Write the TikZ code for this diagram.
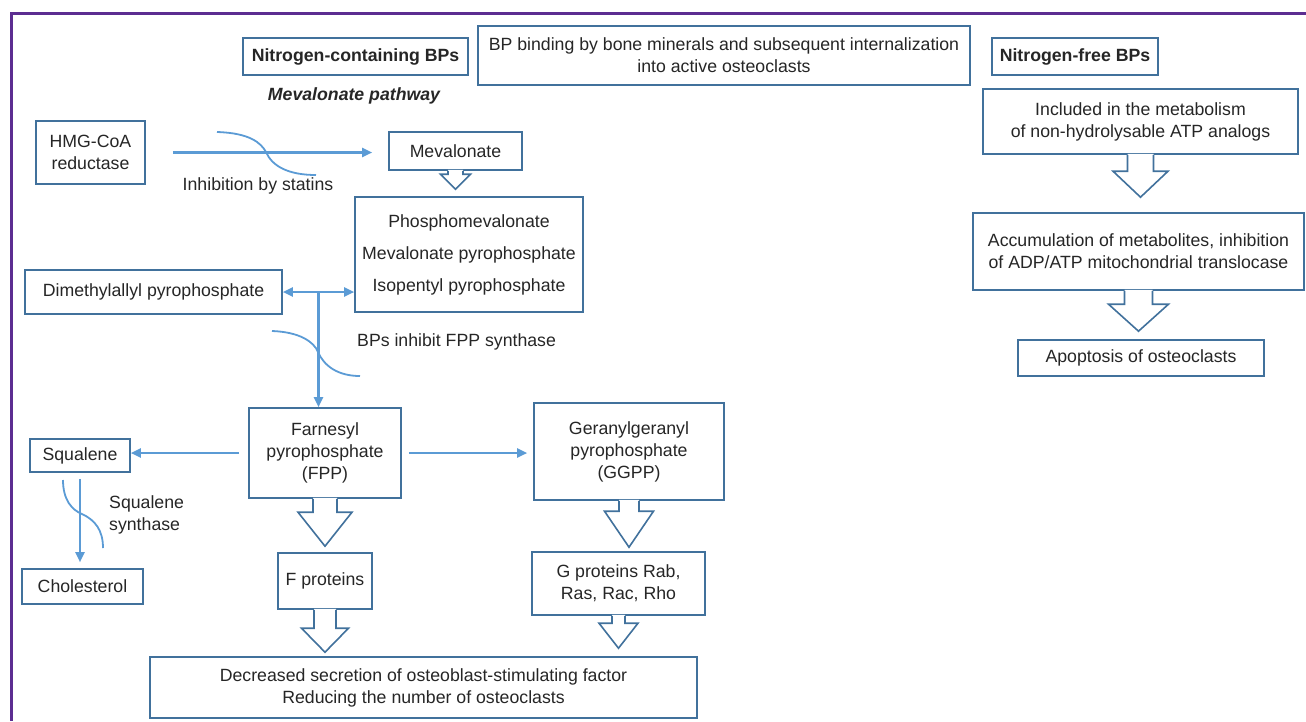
\documentclass[tikz,border=0pt]{standalone}
\usepackage{fontspec}
\setmainfont{Liberation Sans}
\usepackage{tikz}
\usetikzlibrary{positioning,arrows.meta,calc}
\definecolor{bxc}{HTML}{41719C}
\definecolor{arrc}{HTML}{5B9BD5}
\definecolor{frm}{HTML}{5C2D91}
\definecolor{txt}{HTML}{262626}

% hollow block arrow: source, target, shaft half, head half, head length, gap
\newcommand{\bigarrow}[6]{%
  \fill[white] let \p1=(#1.south), \p2=(#2.north) in
    ({\x1-#3pt},{\y1+1pt}) -- ({\x1-#3pt},{\y2+#6pt+#5pt}) -- ({\x1-#4pt},{\y2+#6pt+#5pt})
    -- ({\x1},{\y2+#6pt}) -- ({\x1+#4pt},{\y2+#6pt+#5pt}) -- ({\x1+#3pt},{\y2+#6pt+#5pt})
    -- ({\x1+#3pt},{\y1+1pt}) -- cycle;
  \draw[bxline] let \p1=(#1.south), \p2=(#2.north) in
    ({\x1-#3pt},{\y1}) -- ({\x1-#3pt},{\y2+#6pt+#5pt}) -- ({\x1-#4pt},{\y2+#6pt+#5pt})
    -- ({\x1},{\y2+#6pt}) -- ({\x1+#4pt},{\y2+#6pt+#5pt}) -- ({\x1+#3pt},{\y2+#6pt+#5pt})
    -- ({\x1+#3pt},{\y1});
}

\begin{document}
\begin{tikzpicture}[x=1pt, y=-1pt,
      font=\fontsize{17.7}{22}\selectfont, text=txt,
      bxline/.style={draw=bxc, line width=1.6pt},
      bx/.style={bxline, fill=white, inner sep=0pt, align=center},
      link/.style={-{Triangle[length=10pt,width=9pt]}, line width=2.2pt, draw=arrc},
      inh/.style={draw=arrc, line width=1.8pt},
      lbl/.style={inner sep=0pt, align=center},
    ]
    \useasboundingbox (0,0) rectangle (1306,721);
    \draw[frm, line width=3pt] (1306,13) -- (11.5,13) -- (11.5,721);

    % headers
    \node[bx, minimum width=225, minimum height=37, font=\fontsize{17.7}{22}\selectfont\bfseries] (ncbp) at (355.5,56.5) {Nitrogen-containing BPs};
    \node[bx, minimum width=492, minimum height=59] (bind) at (724,55.5) {BP binding by bone minerals and subsequent internalization\\into active osteoclasts};
    \node[bx, minimum width=166, minimum height=37, font=\fontsize{17.7}{22}\selectfont\bfseries] (nfbp) at (1075,56.5) {Nitrogen-free BPs};
    \node[lbl, font=\fontsize{17.7}{22}\selectfont\bfseries\itshape] (mvp) at (354,96) {Mevalonate pathway};

    % nitrogen-free branch
    \node[bx, minimum width=315, minimum height=65] (incl) at (1140.5,121.5) {Included in the metabolism\\of non-hydrolysable ATP analogs};
    \node[bx, minimum width=331, minimum height=77] (accum) at (1138.5,251.5) {Accumulation of metabolites, inhibition\\of ADP/ATP mitochondrial translocase};
    \node[bx, minimum width=246, minimum height=36] (apop) at (1141,358) {Apoptosis of osteoclasts};
    \bigarrow{incl}{accum}{13}{27.5}{26}{15}
    \bigarrow{accum}{apop}{14}{30}{27}{8}

    % mevalonate pathway
    \node[bx, minimum width=109, minimum height=63] (hmg) at (90.5,152.5) {HMG-CoA\\reductase};
    \node[bx, minimum width=133, minimum height=38] (mev) at (455.5,151) {Mevalonate};
    \node[bx, minimum width=228, minimum height=115] (phos) at (469,254.5) {Phosphomevalonate\\[10pt]Mevalonate pyrophosphate\\[10pt]Isopentyl pyrophosphate};
    \node[bx, minimum width=257, minimum height=44] (dma) at (153.5,292) {Dimethylallyl pyrophosphate};
    \node[bx, minimum width=152, minimum height=90] (fpp) at (325,453) {Farnesyl\\pyrophosphate\\(FPP)};
    \node[bx, minimum width=190, minimum height=97] (ggpp) at (629,451.5) {Geranylgeranyl\\pyrophosphate\\(GGPP)};
    \node[bx, minimum width=100, minimum height=33] (sq) at (80,455.5) {Squalene};
    \node[bx, minimum width=121, minimum height=35] (chol) at (82.5,586.5) {Cholesterol};
    \node[bx, minimum width=94, minimum height=56] (fprot) at (325,581) {F proteins};
    \node[bx, minimum width=173, minimum height=63] (gprot) at (618.5,583.5) {G proteins Rab,\\Ras, Rac, Rho};
    \node[bx, minimum width=547, minimum height=61] (decr) at (423.5,687.5) {Decreased secretion of osteoblast-stimulating factor\\Reducing the number of osteoclasts};

    \draw[link] ([xshift=27pt]hmg.east) -- ([xshift=-16pt]mev.west |- hmg.east);
    \draw[inh] (217,132) .. controls (250,133) and (261,143) .. (266,152)
      .. controls (272,166) and (288,175) .. (316,175);
    \node[lbl] (stat) at (258,186) {Inhibition by statins};

    \bigarrow{mev}{phos}{7.5}{15}{15}{7}

    \coordinate (jn) at ($(dma.east)!0.5!(phos.west |- dma.east)$);
    \draw[link, {Triangle[length=10pt,width=9pt]}-{Triangle[length=10pt,width=9pt]}] (dma.east) -- (phos.west |- dma.east);
    \draw[link] (jn) -- (jn |- fpp.north);
    \draw[inh] (272,331) .. controls (300,332) and (314,342) .. (318,352)
      .. controls (324,366) and (338,376) .. (360,376);
    \node[lbl, anchor=west] (fppi) at (357,342) {BPs inhibit FPP synthase};

    \draw[link] ([xshift=-9pt]fpp.west) -- (sq.east |- fpp.west);
    \draw[link] ([xshift=7pt]fpp.east) -- ([xshift=-6pt]ggpp.west |- fpp.east);

    \draw[link] ([yshift=-6pt]sq.south) -- ([yshift=6pt]sq.south |- chol.north);
    \draw[inh] (63,480) .. controls (63,500) and (72,510) .. (82,514)
      .. controls (95,520) and (103,530) .. (103,548);
    \node[lbl, align=left, anchor=west] (sqs) at (109,515) {Squalene\\synthase};

    \bigarrow{fpp}{fprot}{12}{27}{34}{6}
    \bigarrow{fprot}{decr}{11}{23.5}{24}{4}
    \bigarrow{ggpp}{gprot}{10}{24.5}{36}{4}
    \bigarrow{gprot}{decr}{6.5}{19.5}{25}{8}
  \end{tikzpicture}
\end{document}
